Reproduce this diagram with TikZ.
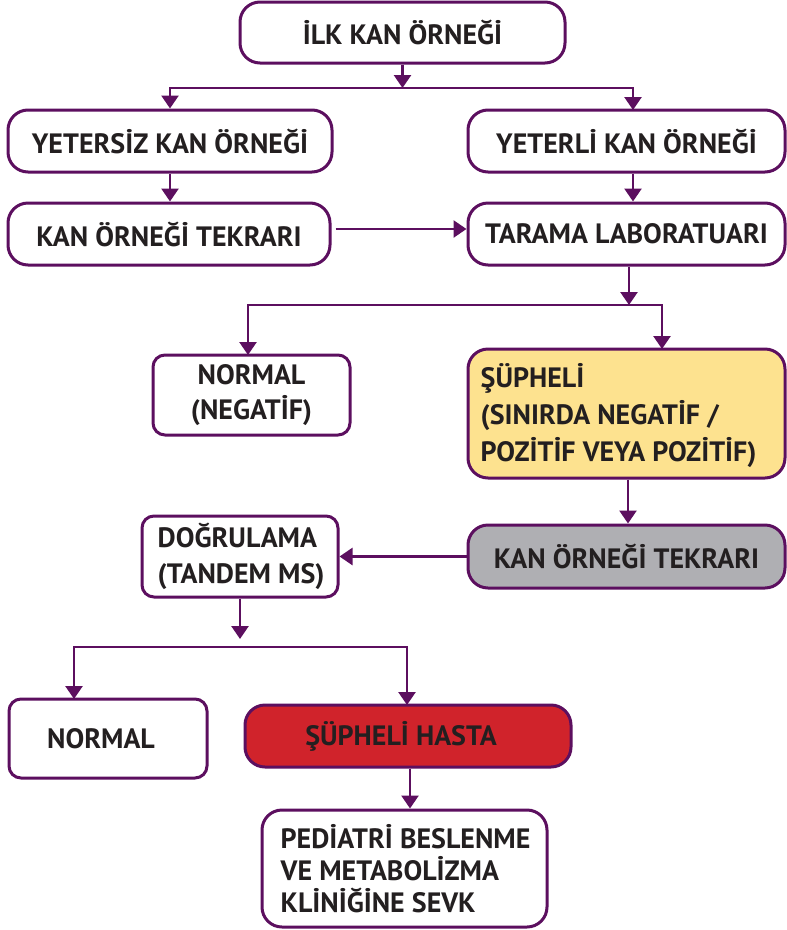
\documentclass[tikz,border=0pt]{standalone}
\usepackage{fontspec}
\setmainfont{PT Sans}
\usetikzlibrary{arrows.meta,calc}
\definecolor{pur}{HTML}{5C0F5F}
\definecolor{ink}{HTML}{231F20}
\definecolor{yel}{HTML}{FDE28F}
\definecolor{gry}{HTML}{AFAFB3}
\definecolor{redb}{HTML}{D0232B}
\tikzset{
  box/.style={draw=pur, line width=3pt, rounded corners=20pt, fill=white,
    text=ink, font=\fontsize{28}{35}\selectfont\bfseries, inner sep=0pt, align=center},
  sbox/.style={box, rounded corners=12pt},
  lbl/.style={text=ink, inner sep=0pt, align=left, anchor=west},
  arr/.style={draw=pur, line width=2.6pt, -{Triangle[width=17pt,length=13pt]}},
}
\begin{document}
\begin{tikzpicture}[x=1pt, y=-1pt]
\useasboundingbox (0,0) rectangle (787,930);

% boxes
\node[box, minimum width=325pt, minimum height=61pt] (b1) at (402.5,32.5) {İLK KAN ÖRNEĞİ};
\node[box, minimum width=324pt, minimum height=62pt] (b2) at (170,141) {YETERSİZ KAN ÖRNEĞİ};
\node[box, minimum width=317pt, minimum height=62pt] (b3) at (626.5,141) {YETERLİ KAN ÖRNEĞİ};
\node[box, minimum width=322pt, minimum height=62pt] (b4) at (169,234) {KAN ÖRNEĞİ TEKRARI};
\node[box, minimum width=317pt, minimum height=62pt] (b5) at (626.5,234) {TARAMA LABORATUARI};
\node[sbox, minimum width=197pt, minimum height=80pt] (b6) at (251.5,395) {NORMAL\\(NEGATİF)};
\node[box, fill=yel, minimum width=317pt, minimum height=129pt] (b7) at (626.5,413.5) {};
\node[lbl, font=\fontsize{28}{37}\selectfont\bfseries] (b7t) at ([xshift=14pt,yshift=-2pt]b7.west)
      {ŞÜPHELİ\\(SINIRDA NEGATİF /\\POZİTİF VEYA POZİTİF)};
\node[box, fill=gry, minimum width=317pt, minimum height=63pt] (b8) at (626.5,556.5) {KAN ÖRNEĞİ TEKRARI};
\node[sbox, minimum width=196pt, minimum height=81pt] (b9) at (240,556.5) {};
\node[lbl, font=\fontsize{28}{36}\selectfont\bfseries] (b9t) at ([xshift=17pt]b9.west)
      {DOĞRULAMA\\(TANDEM MS)};
\node[sbox, minimum width=198pt, minimum height=79pt] (b10) at (108,738.5) {\hspace*{-14pt}NORMAL};
\node[box, fill=redb, minimum width=326pt, minimum height=62pt] (b11) at (408,736) {\hspace*{-14pt}ŞÜPHELİ HASTA};
\node[box, minimum width=285pt, minimum height=117pt] (b12) at (404.5,868.5) {};
\node[lbl, font=\fontsize{28}{32}\selectfont\bfseries] (b12t) at ([xshift=20pt]b12.west)
      {PEDİATRİ BESLENME\\VE METABOLİZMA\\KLİNİĞİNE SEVK};

% junction points and landing points
\coordinate (j1) at (402.5,88);
\coordinate (t3) at (633,110);
\coordinate (j2) at (629,305);
\coordinate (t6) at (248,355);
\coordinate (t7) at (662,349);
\coordinate (m7) at (628,0);
\coordinate (tip9) at (240,639);
\coordinate (j3) at (240,647);
\coordinate (t10) at (74,699);
\coordinate (t11) at (407,705);
\coordinate (m11) at (410,0);

% connectors
\draw[arr] (b1.south) -- (j1);
\draw[arr] (j1) -| (b2.north);
\draw[arr] (j1) -| (t3);
\draw[arr] (b2.south) -- (b2.south |- b4.north);
\draw[arr] (t3 |- b3.south) -- (t3 |- b5.north);
\draw[arr, shorten <=4pt] ([yshift=5pt]b4.east) -- ([yshift=5pt]b5.west);
\draw[arr] (j2 |- b5.south) -- (j2);
\draw[arr] (j2) -| (t6);
\draw[arr] (j2) -| (t7);
\draw[arr] (m7 |- b7.south) -- (m7 |- b8.north);
\draw[arr] (b8.west) -- (b9.east);
\draw[arr] (b9.south) -- (tip9);
\draw[arr] ($(j3)+(-166,0)$) -- (j3) -| (t11);
\draw[arr] (j3) -| (t10);
\draw[arr] (m11 |- b11.south) -- (m11 |- b12.north);
\end{tikzpicture}
\end{document}
